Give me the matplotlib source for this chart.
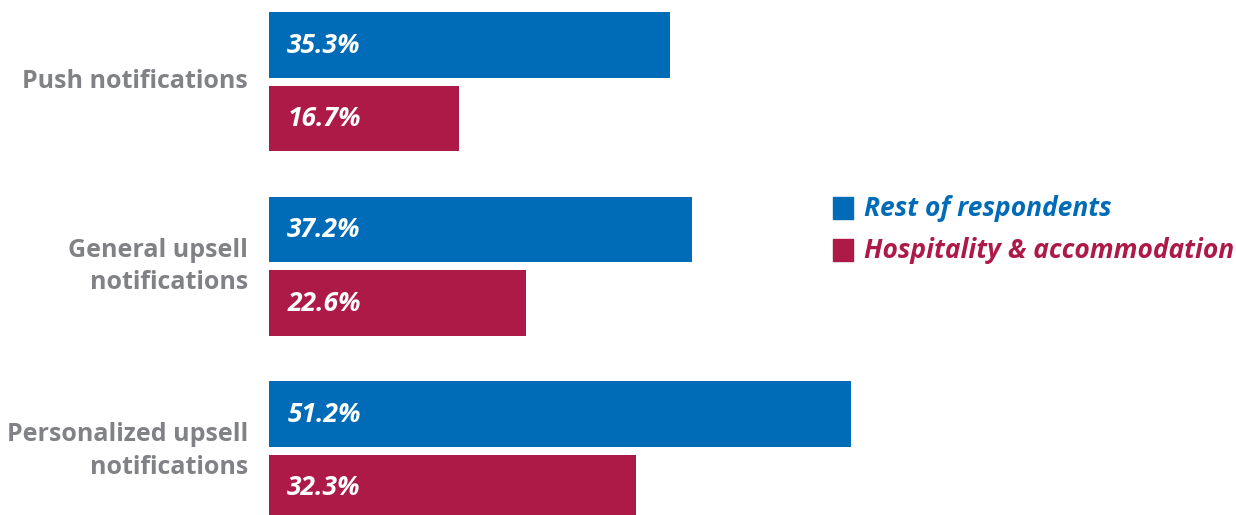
import matplotlib
matplotlib.use("Agg")
import matplotlib.pyplot as plt
from matplotlib.patches import Rectangle

categories = ["Push notifications", "General upsell\nnotifications", "Personalized upsell\nnotifications"]
rest_values = [35.3, 37.2, 51.2]
hosp_values = [16.7, 22.6, 32.3]
series_names = ["Rest of respondents", "Hospitality & accommodation"]

BLUE = "#006BB6"
RED = "#AD1A47"
GRAY = "#808285"

plt.rcParams['font.family'] = ['Open Sans', 'DejaVu Sans']

fig = plt.figure(figsize=(12.36, 5.15), dpi=100)
ax = fig.add_axes([269/1236, 0, 1 - 269/1236, 1])
ax.set_xlim(0, (1236 - 269) / 11.36)
ax.set_ylim(2.347, -0.444)
ax.axis("off")

h = 0.355
off = 0.199
for i, (cat, r, hv) in enumerate(zip(categories, rest_values, hosp_values)):
    ax.barh(i - off, r, height=h, color=BLUE, left=0)
    ax.barh(i + off, hv, height=h, color=RED, left=0)
    ax.text(1.6, i - off, f"{r:.1f}%", color="white", fontsize=19, fontweight="bold",
            fontstyle="italic", va="center", ha="left")
    ax.text(1.6, i + off, f"{hv:.1f}%", color="white", fontsize=19, fontweight="bold",
            fontstyle="italic", va="center", ha="left")
    ax.text(-1.85, i, cat, color=GRAY, fontsize=18, fontweight="bold",
            ha="right", va="center", linespacing=1.38, clip_on=False)

# legend
for k, (name, col) in enumerate(zip(series_names, [BLUE, RED])):
    yk = 208 + 42 * k
    fig.patches.append(Rectangle((833/1236, 1 - (yk + 11)/515), 20/1236, 22/515,
                                 transform=fig.transFigure, color=col))
    fig.text(864/1236, 1 - yk/515, name, color=col, fontsize=19, fontweight="bold",
             fontstyle="italic", ha="left", va="center")

fig.savefig("out.png", dpi=100)
